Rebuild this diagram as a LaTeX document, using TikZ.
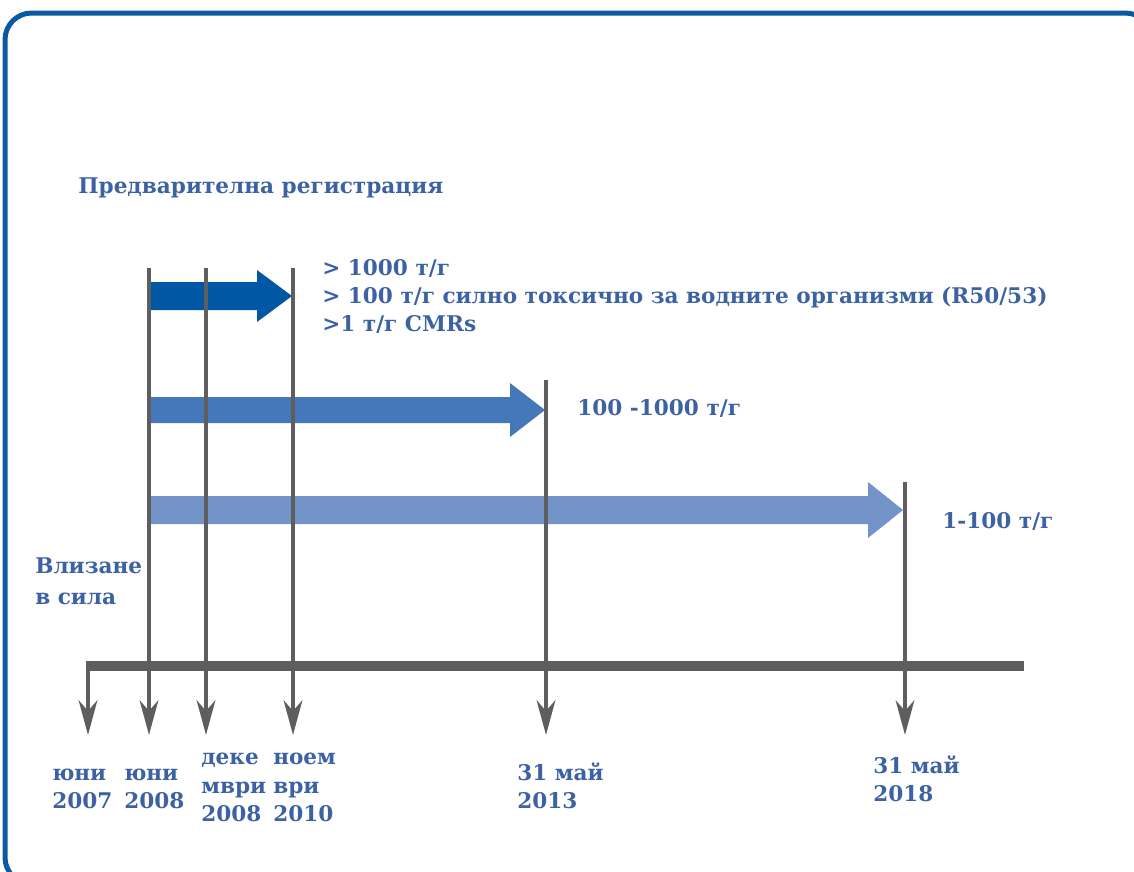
\documentclass[tikz,border=0pt]{standalone}
\usepackage{fontspec}
\setmainfont{DejaVu Serif}
\usetikzlibrary{arrows.meta}
\definecolor{framecol}{HTML}{0A5AA2}
\definecolor{txtcol}{HTML}{3D62A3}
\definecolor{linecol}{HTML}{5E5E5E}
\definecolor{arrA}{HTML}{0057A4}
\definecolor{arrB}{HTML}{4577BB}
\definecolor{arrC}{HTML}{7393C9}
\tikzset{
  lbl/.style={anchor=base west, inner sep=0pt, text=txtcol, font=\bfseries\fontsize{16.2}{21}\selectfont, align=left},
  tick/.style={draw=linecol, line width=3pt},
  tickarrow/.style={draw=linecol, line width=3pt, -{Stealth[length=26pt, width=14pt, inset=8pt]}},
  axis/.style={draw=linecol, line width=7.5pt},
}
\begin{document}
\begin{tikzpicture}[x=0.75pt,y=-0.75pt]
\useasboundingbox (0,0) rectangle (1134,871);
\begin{scope}
\clip (0,0) rectangle (1134,871);
\draw[framecol, line width=3.75pt, rounded corners=20pt] (5,13) rectangle (1152,884);
\end{scope}

% coordinates
\coordinate (t0) at (88,666);
\coordinate (tend) at (1024,666);
\coordinate (a1top) at (149,268);
\coordinate (a2top) at (206,268);
\coordinate (a3top) at (293,268);
\coordinate (a4top) at (546,380);
\coordinate (a5top) at (905,482);
\coordinate (b0) at (88,735);
\coordinate (b1) at (149,735);
\coordinate (b2) at (206,735);
\coordinate (b3) at (293,735);
\coordinate (b4) at (546,735);
\coordinate (b5) at (905,735);

% block arrows
\fill[arrA] (151,282) -- (257,282) -- (257,270) -- (292,296) -- (257,322) -- (257,310) -- (151,310) -- cycle;
\fill[arrB] (151,397) -- (510,397) -- (510,383) -- (545,410) -- (510,437) -- (510,423) -- (151,423) -- cycle;
\fill[arrC] (151,496) -- (868,496) -- (868,482) -- (903,510) -- (868,538) -- (868,524) -- (151,524) -- cycle;

% vertical lines
\draw[tickarrow] (a1top) -- (b1);
\draw[tickarrow] (a2top) -- (b2);
\draw[tickarrow] (a3top) -- (b3);
\draw[tickarrow] (a4top) -- (b4);
\draw[tickarrow] (a5top) -- (b5);
\draw[tickarrow] ([yshift=-2.5pt]t0) -- (b0);
\draw[axis] ([xshift=-1.5pt]t0) -- (tend);

% labels
\node[lbl] (title) at (78,193) {Предварителна регистрация};
\node[lbl] (l1) at (322,275) {> 1000 т/г};
\node[lbl] (l2) at (322,303) {> 100 т/г силно токсично за водните организми (R50/53)};
\node[lbl] (l3) at (322,331) {>1 т/г CMRs};
\node[lbl] (m) at (577,415) {100 -1000 т/г};
\node[lbl] (s) at (942,528) {1-100 т/г};
\node[lbl] (v1) at (35,573) {Влизане};
\node[lbl] (v2) at (35,604) {в сила};
\node[lbl] (d1a) at (52,780) {юни};
\node[lbl] (d1b) at (52,808) {2007};
\node[lbl] (d2a) at (124,780) {юни};
\node[lbl] (d2b) at (124,808) {2008};
\node[lbl] (d3a) at (201,764) {деке};
\node[lbl] (d3b) at (201,793) {мври};
\node[lbl] (d3c) at (201,821) {2008};
\node[lbl] (d4a) at (273,764) {ноем};
\node[lbl] (d4b) at (273,793) {ври};
\node[lbl] (d4c) at (273,821) {2010};
\node[lbl] (d5a) at (517,780) {31 май};
\node[lbl] (d5b) at (517,808) {2013};
\node[lbl] (d6a) at (873,773) {31 май};
\node[lbl] (d6b) at (873,801) {2018};
\end{tikzpicture}
\end{document}
